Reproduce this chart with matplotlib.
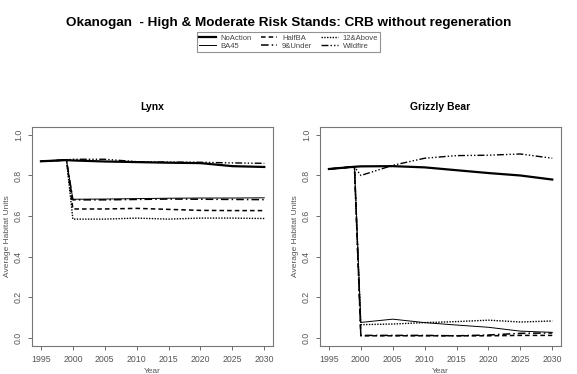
import matplotlib
matplotlib.use('Agg')
import matplotlib.pyplot as plt

plt.rcParams['font.family'] = ['Liberation Sans', 'DejaVu Sans']

# Years on the x axis
years = [1995, 1999, 2000, 2005, 2010, 2015, 2020, 2025, 2030]

# Lynx values per scenario
lynx_noaction = [0.870, 0.876, 0.874, 0.869, 0.866, 0.863, 0.861, 0.846, 0.842]
lynx_ba45 = [0.870, 0.876, 0.683, 0.684, 0.686, 0.688, 0.689, 0.689, 0.690]
lynx_halfba = [0.870, 0.876, 0.635, 0.635, 0.638, 0.633, 0.628, 0.627, 0.627]
lynx_9under = [0.870, 0.876, 0.680, 0.680, 0.682, 0.684, 0.683, 0.682, 0.681]
lynx_12above = [0.870, 0.876, 0.585, 0.585, 0.590, 0.585, 0.590, 0.590, 0.588]
lynx_wildfire = [0.870, 0.877, 0.880, 0.880, 0.868, 0.866, 0.865, 0.862, 0.860]

# Grizzly bear values per scenario
griz_noaction = [0.832, 0.843, 0.845, 0.846, 0.840, 0.826, 0.812, 0.800, 0.780]
griz_ba45 = [0.832, 0.843, 0.076, 0.092, 0.075, 0.063, 0.052, 0.033, 0.027]
griz_halfba = [0.832, 0.843, 0.010, 0.010, 0.010, 0.010, 0.010, 0.012, 0.012]
griz_9under = [0.832, 0.843, 0.012, 0.012, 0.012, 0.010, 0.014, 0.022, 0.024]
griz_12above = [0.832, 0.843, 0.065, 0.068, 0.075, 0.080, 0.087, 0.078, 0.083]
griz_wildfire = [0.832, 0.843, 0.800, 0.850, 0.885, 0.898, 0.900, 0.906, 0.885]

labels = ['NoAction', 'BA45', 'HalfBA', '9&Under', '12&Above', 'Wildfire']
styles = [
    dict(lw=1.6, ls='-'),
    dict(lw=0.7, ls='-'),
    dict(lw=1.1, ls=(0, (3, 2))),
    dict(lw=1.1, ls=(0, (5, 2, 1, 2))),
    dict(lw=1.0, ls=(0, (1, 1))),
    dict(lw=1.0, ls=(0, (5, 1.5, 1, 1.5, 1, 1.5, 1, 1.5))),
]

fig = plt.figure(figsize=(5.77, 3.74), dpi=100)
fig.patch.set_facecolor('white')

panels = [
    ('Lynx', [0.0555, 0.075, 0.418, 0.586],
     [lynx_noaction, lynx_ba45, lynx_halfba, lynx_9under, lynx_12above, lynx_wildfire]),
    ('Grizzly Bear', [0.5546, 0.075, 0.418, 0.586],
     [griz_noaction, griz_ba45, griz_halfba, griz_9under, griz_12above, griz_wildfire]),
]

handles = []
for title, pos, series in panels:
    ax = fig.add_axes(pos)
    handles = []
    for vals, lab, st in zip(series, labels, styles):
        h, = ax.plot(years, vals, color='black', label=lab, **st)
        handles.append(h)
    ax.set_xlim(1993.6, 2031.4)
    ax.set_ylim(-0.04, 1.04)
    ax.set_xticks(range(1995, 2031, 5))
    ax.set_yticks([0.0, 0.2, 0.4, 0.6, 0.8, 1.0])
    ax.set_yticklabels(['0.0', '0.2', '0.4', '0.6', '0.8', '1.0'], rotation=90, va='center')
    ax.tick_params(colors='#555555', labelsize=6.3, length=3, width=0.6)
    for sp in ax.spines.values():
        sp.set_color('#777777')
        sp.set_linewidth(0.8)
    ax.set_title(title, fontsize=7.5, fontweight='bold', pad=12)
    ax.set_xlabel('Year', fontsize=6, color='#555555', labelpad=3)
    ax.set_ylabel('Average Habitat Units', fontsize=6, color='#555555', labelpad=2)

fig.suptitle('Okanogan  - High & Moderate Risk Stands: CRB without regeneration',
             fontsize=9.7, fontweight='bold', y=0.955)

leg = fig.legend(handles, labels, loc='center', bbox_to_anchor=(0.5, 0.888), ncol=3,
                 fontsize=5.5, frameon=True, fancybox=False, handlelength=2.2,
                 columnspacing=1.2, handletextpad=0.6, labelspacing=0.1,
                 borderpad=0.3, edgecolor='#777777')
leg.get_frame().set_linewidth(0.8)
for t in leg.get_texts():
    t.set_color('#444444')

fig.savefig('out.png', dpi=100)
